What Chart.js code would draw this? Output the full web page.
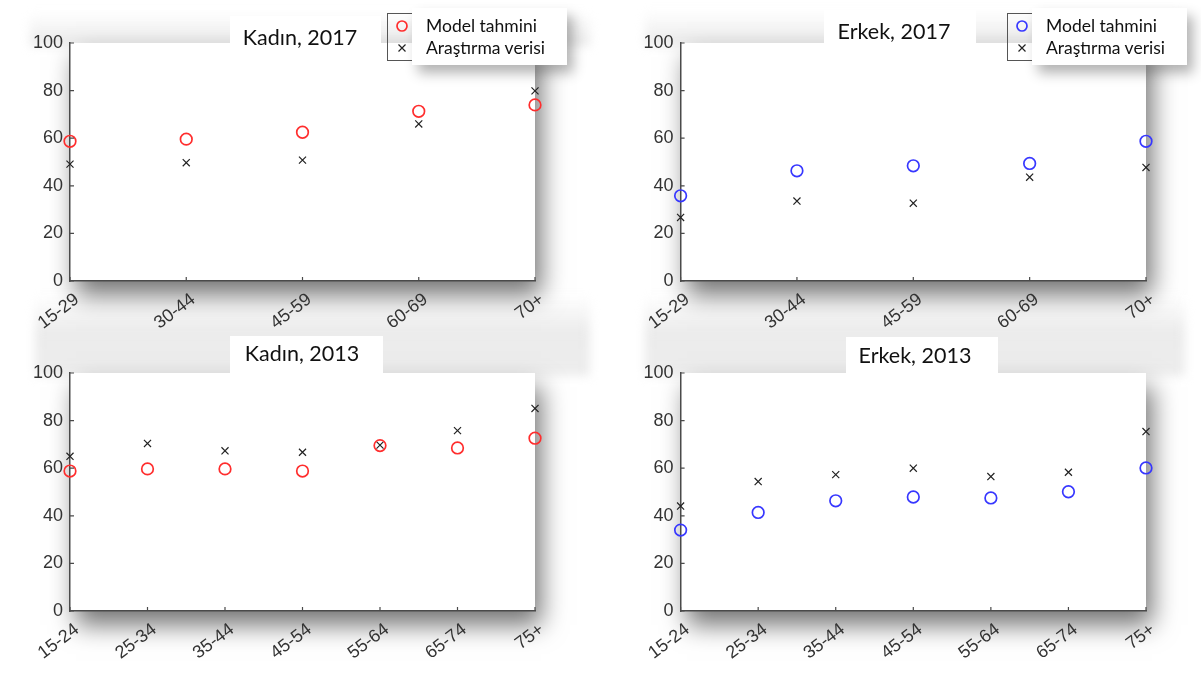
<!DOCTYPE html>
<html>
<head>
<meta charset="utf-8">
<script src="https://cdn.jsdelivr.net/npm/chart.js@4/dist/chart.umd.min.js"></script>
<style>
  body { margin: 0; background: #fff; width: 1201px; height: 675px; position: relative; overflow: hidden; }
  canvas { position: absolute; }
  .band { position: absolute; background: linear-gradient(rgba(235,235,235,0), #e9e9e9); filter: blur(5px); }
  .mid { background: linear-gradient(rgba(236,236,236,0), #ebebeb 45%, #ededed); }
  .tbox { position: absolute; background: #fff; }
  .ttl { position: absolute; width: 200px; text-align: center; font: 21.5px Lato, sans-serif; color: #111; line-height: 26px; }
  .lborder { position: absolute; border: 1.5px solid #555; width: 40px; height: 48px; box-sizing: border-box; }
  .lbox { position: absolute; background: #fff; width: 155px; height: 57px; box-shadow: 6px 8px 12px rgba(0,0,0,0.3); }
  .ltxt { position: absolute; font: 17.5px Lato, sans-serif; color: #111; line-height: 20px; white-space: nowrap; }
  .mk { position: absolute; }
</style>
</head>
<body>
<div class="band" style="left:30px;top:12px;width:560px;height:34px"></div>
<div class="band" style="left:645px;top:10px;width:535px;height:36px"></div>
<div class="band mid" style="left:35px;top:296px;width:555px;height:80px"></div>
<div class="band mid" style="left:645px;top:296px;width:540px;height:80px"></div>

<canvas id="c3" width="600" height="340" style="left:0;top:335px"></canvas>
<canvas id="c4" width="601" height="340" style="left:600px;top:335px"></canvas>
<canvas id="c1" width="600" height="345" style="left:0;top:0"></canvas>
<canvas id="c2" width="601" height="345" style="left:600px;top:0"></canvas>

<div class="tbox" style="left:230px;top:16px;width:151px;height:28px"></div>
<div class="ttl" style="left:200px;top:24px">Kadın, 2017</div>
<div class="tbox" style="left:824px;top:10px;width:152px;height:34px"></div>
<div class="ttl" style="left:794px;top:18px">Erkek, 2017</div>
<div class="tbox" style="left:230px;top:336px;width:153px;height:38px"></div>
<div class="ttl" style="left:202px;top:340px">Kadın, 2013</div>
<div class="tbox" style="left:846px;top:337px;width:152px;height:37px"></div>
<div class="ttl" style="left:815px;top:342px">Erkek, 2013</div>

<div id="legends"></div>

<script>
// age groups
const ages2017 = ['15-29', '30-44', '45-59', '60-69', '70+'];
const ages2013 = ['15-24', '25-34', '35-44', '45-54', '55-64', '65-74', '75+'];

// Kadın, 2017
const kadin2017Model = [58.7, 59.6, 62.5, 71.3, 74.0];
const kadin2017Survey = [49.1, 49.7, 50.8, 66.0, 79.9];
// Erkek, 2017
const erkek2017Model = [35.8, 46.3, 48.4, 49.4, 58.7];
const erkek2017Survey = [26.7, 33.6, 32.7, 43.6, 47.7];
// Kadın, 2013
const kadin2013Model = [58.8, 59.7, 59.7, 58.8, 69.5, 68.5, 72.6];
const kadin2013Survey = [65.0, 70.4, 67.3, 66.7, 69.7, 75.8, 85.1];
// Erkek, 2013
const erkek2013Model = [34.0, 41.4, 46.3, 47.9, 47.5, 50.1, 60.1];
const erkek2013Survey = [44.1, 54.4, 57.3, 60.0, 56.5, 58.3, 75.4];

const seriesNames = ['Model tahmini', 'Araştırma verisi'];
const yMin = 0, yMax = 100, yStep = 20;

const RED = 'rgb(255,45,45)';
const BLUE = 'rgb(55,55,255)';
const AXIS = '#4a4a4a';
const TICKTXT = '#333';

// white plot box with a soft drop shadow, like the screenshot
const shadowPlugin = {
  id: 'plotShadow',
  beforeDraw(chart) {
    const { ctx, chartArea: a } = chart;
    ctx.save();
    ctx.shadowColor = 'rgba(0,0,0,0.55)';
    ctx.shadowBlur = 24;
    ctx.shadowOffsetX = 6;
    ctx.shadowOffsetY = 14;
    ctx.fillStyle = '#fff';
    ctx.fillRect(a.left, a.top, a.right - a.left, a.bottom - a.top);
    ctx.restore();
    ctx.fillStyle = '#fff';
    ctx.fillRect(a.left, a.top, a.right - a.left, a.bottom - a.top);
  }
};

// short inward tick marks (matlab style)
const inTicks = {
  id: 'inTicks',
  afterDraw(chart) {
    const { ctx, chartArea: a, scales } = chart;
    ctx.save();
    ctx.strokeStyle = AXIS;
    ctx.lineWidth = 1.2;
    ctx.beginPath();
    scales.x.ticks.forEach((t, i) => {
      const x = scales.x.getPixelForTick(i);
      ctx.moveTo(x, a.bottom);
      ctx.lineTo(x, a.bottom - 4);
    });
    scales.y.ticks.forEach((t, i) => {
      const y = scales.y.getPixelForTick(i);
      ctx.moveTo(a.left, y);
      ctx.lineTo(a.left + 4, y);
    });
    ctx.stroke();
    ctx.restore();
  }
};

function makePanel(id, labels, model, survey, color, pad) {
  return new Chart(document.getElementById(id), {
    type: 'line',
    data: {
      labels: labels,
      datasets: [{
        label: seriesNames[0],
        data: model,
        showLine: false,
        clip: false,
        pointStyle: 'circle',
        pointRadius: 5.8,
        pointBorderWidth: 1.7,
        pointBorderColor: color,
        pointBackgroundColor: 'rgba(0,0,0,0)',
        borderColor: color
      }, {
        label: seriesNames[1],
        data: survey,
        showLine: false,
        clip: false,
        pointStyle: 'crossRot',
        pointRadius: 5,
        pointBorderWidth: 1.2,
        pointBorderColor: '#222',
        borderColor: '#222'
      }]
    },
    options: {
      responsive: false,
      animation: false,
      layout: { padding: pad },
      plugins: { legend: { display: false }, tooltip: { enabled: false } },
      scales: {
        x: {
          offset: false,
          grid: { display: false, drawTicks: false },
          border: { color: AXIS, width: 1.5 },
          ticks: {
            autoSkip: false, minRotation: 37, maxRotation: 37, padding: 8, labelOffset: 7,
            color: TICKTXT, font: { family: 'Liberation Sans', size: 18 }
          },
          afterFit: s => { s.height = 50 }
        },
        y: {
          min: yMin, max: yMax,
          grid: { display: false, drawTicks: false },
          border: { color: AXIS, width: 1.5 },
          ticks: {
            stepSize: yStep, padding: 7,
            color: TICKTXT, font: { family: 'Liberation Sans', size: 18 }
          },
          afterFit: s => { s.width = 40 }
        }
      }
    },
    plugins: [shadowPlugin, inTicks]
  });
}

makePanel('c1', ages2017, kadin2017Model, kadin2017Survey, RED,  { left: 30, right: 65, top: 43, bottom: 14 });
makePanel('c2', ages2017, erkek2017Model, erkek2017Survey, BLUE, { left: 40.6, right: 55, top: 43, bottom: 14 });
makePanel('c3', ages2013, kadin2013Model, kadin2013Survey, RED,  { left: 30, right: 65, top: 38, bottom: 14 });
makePanel('c4', ages2013, erkek2013Model, erkek2013Survey, BLUE, { left: 40.6, right: 55, top: 38, bottom: 14 });

// legends for the two top panels
function legend(x0, color) {
  const box = document.getElementById('legends');
  const mx = x0 + 15, tx = x0 + 39;
  box.insertAdjacentHTML('beforeend',
    `<div class="lborder" style="left:${x0}px;top:13px"></div>` +
    `<div class="lbox" style="left:${x0 + 25}px;top:8px"></div>` +
    `<svg class="mk" style="left:${mx - 7}px;top:19px" width="14" height="36">` +
      `<circle cx="7" cy="7" r="5" fill="none" stroke="${color}" stroke-width="1.7"/>` +
      `<path d="M3.5 25.5L10.5 32.5M10.5 25.5L3.5 32.5" stroke="#222" stroke-width="1.2"/></svg>` +
    `<div class="ltxt" style="left:${tx}px;top:16px">${seriesNames[0]}</div>` +
    `<div class="ltxt" style="left:${tx}px;top:38px">${seriesNames[1]}</div>`);
}
legend(387, RED);
legend(1007, BLUE);
</script>
</body>
</html>
